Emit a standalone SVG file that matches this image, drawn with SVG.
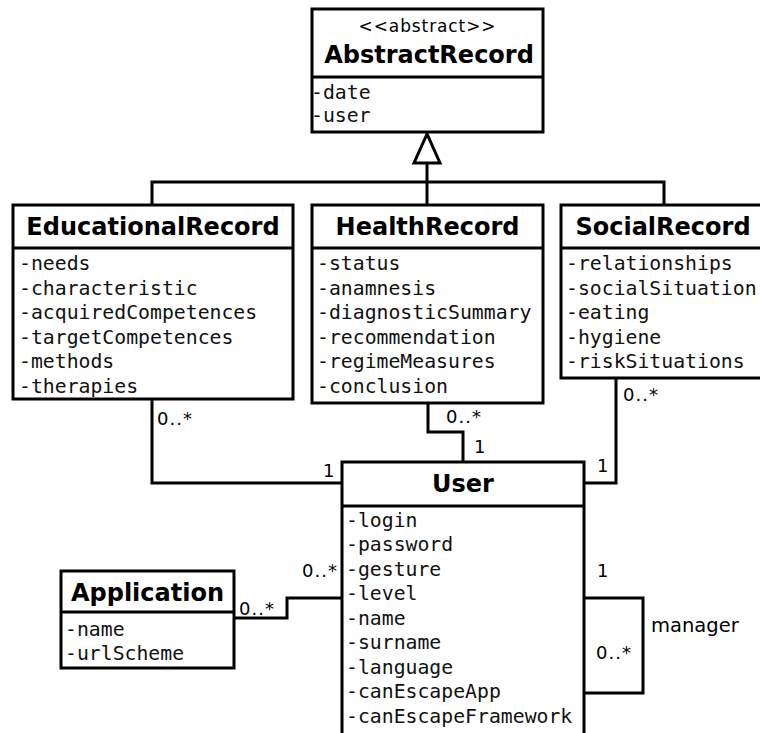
<svg xmlns="http://www.w3.org/2000/svg" width="760" height="733" viewBox="0 0 760 733">
  <style>
    .box { fill: #ffffff; stroke: #000000; stroke-width: 3; }
    .sep { stroke: #000000; stroke-width: 3; fill: none; }
    .title { font-family: "DejaVu Sans", "Liberation Sans", sans-serif; font-weight: bold; font-size: 24px; text-anchor: middle; fill: #000; }
    .stereo { font-family: "DejaVu Sans", "Liberation Sans", sans-serif; font-size: 17px; text-anchor: middle; fill: #000; letter-spacing: 0.9px; }
    .attr { font-family: "DejaVu Sans Mono", "Liberation Mono", monospace; font-size: 19.8px; fill: #111; }
    .wire { fill: none; stroke: #000000; stroke-width: 3; }
    .mult { font-family: "DejaVu Sans", "Liberation Sans", sans-serif; font-size: 18px; fill: #000; letter-spacing: 1px; }
    .role { font-family: "DejaVu Sans", "Liberation Sans", sans-serif; font-size: 19.5px; fill: #000; }
  </style>
  <rect x="0" y="0" width="760" height="733" fill="#ffffff"/>

  <!-- connectors -->
  <g id="connectors">
    <!-- generalization tree -->
    <polyline class="wire" points="152,205 152,182 664,182 664,205"/>
    <line class="wire" x1="427" y1="163" x2="427" y2="205"/>
    <polygon points="427,134 414,163 440,163" fill="#ffffff" stroke="#000000" stroke-width="3" stroke-linejoin="miter"/>
    <!-- EducationalRecord - User -->
    <polyline class="wire" points="152,399 152,483 342,483"/>
    <text class="mult" x="157" y="425">0..*</text>
    <text class="mult" x="323" y="477">1</text>
    <!-- HealthRecord - User -->
    <polyline class="wire" points="428,403 428,432 463,432 463,462"/>
    <text class="mult" x="446" y="423">0..*</text>
    <text class="mult" x="474" y="453">1</text>
    <!-- SocialRecord - User -->
    <polyline class="wire" points="616,378 616,483 584,483"/>
    <text class="mult" x="623" y="401">0..*</text>
    <text class="mult" x="597" y="472">1</text>
    <!-- Application - User -->
    <polyline class="wire" points="234,618 287,618 287,598 342,598"/>
    <text class="mult" x="239" y="615">0..*</text>
    <text class="mult" x="302" y="577">0..*</text>
    <!-- User manager self association -->
    <polyline class="wire" points="584,598 643,598 643,693 584,693"/>
    <text class="mult" x="597" y="577">1</text>
    <text class="mult" x="596" y="659">0..*</text>
    <text class="role" x="651" y="632">manager</text>
  </g>

  <g id="AbstractRecord">
    <rect class="box" x="312" y="9" width="231" height="123"/>
    <line class="sep" x1="312" y1="77" x2="543" y2="77"/>
    <text class="stereo" x="427.5" y="32">&lt;&lt;abstract&gt;&gt;</text>
    <text class="title" x="429" y="63">AbstractRecord</text>
    <text class="attr" x="311" y="99">-date</text>
    <text class="attr" x="311" y="122">-user</text>
  </g>

  <g id="EducationalRecord">
    <rect class="box" x="13" y="205" width="280" height="194"/>
    <line class="sep" x1="13" y1="248" x2="293" y2="248"/>
    <text class="title" x="153" y="235">EducationalRecord</text>
    <text class="attr" x="19" y="270">-needs</text>
    <text class="attr" x="19" y="294.6">-characteristic</text>
    <text class="attr" x="19" y="319.2">-acquiredCompetences</text>
    <text class="attr" x="19" y="343.8">-targetCompetences</text>
    <text class="attr" x="19" y="368.4">-methods</text>
    <text class="attr" x="19" y="393">-therapies</text>
  </g>

  <g id="HealthRecord">
    <rect class="box" x="312" y="205" width="231" height="198"/>
    <line class="sep" x1="312" y1="248" x2="543" y2="248"/>
    <text class="title" x="427.5" y="235">HealthRecord</text>
    <text class="attr" x="317" y="270">-status</text>
    <text class="attr" x="317" y="294.6">-anamnesis</text>
    <text class="attr" x="317" y="319.2">-diagnosticSummary</text>
    <text class="attr" x="317" y="343.8">-recommendation</text>
    <text class="attr" x="317" y="368.4">-regimeMeasures</text>
    <text class="attr" x="317" y="393">-conclusion</text>
  </g>

  <g id="SocialRecord">
    <rect class="box" x="561" y="205" width="212" height="173"/>
    <line class="sep" x1="561" y1="248" x2="773" y2="248"/>
    <text class="title" x="663" y="235">SocialRecord</text>
    <text class="attr" x="566" y="270">-relationships</text>
    <text class="attr" x="566" y="294.6">-socialSituation</text>
    <text class="attr" x="566" y="319.2">-eating</text>
    <text class="attr" x="566" y="343.8">-hygiene</text>
    <text class="attr" x="566" y="368.4">-riskSituations</text>
  </g>

  <g id="User">
    <rect class="box" x="342" y="462" width="242" height="285"/>
    <line class="sep" x1="342" y1="506" x2="584" y2="506"/>
    <text class="title" x="463" y="492">User</text>
    <text class="attr" x="346" y="526.5">-login</text>
    <text class="attr" x="346" y="551">-password</text>
    <text class="attr" x="346" y="575.5">-gesture</text>
    <text class="attr" x="346" y="600">-level</text>
    <text class="attr" x="346" y="624.5">-name</text>
    <text class="attr" x="346" y="649">-surname</text>
    <text class="attr" x="346" y="673.5">-language</text>
    <text class="attr" x="346" y="698">-canEscapeApp</text>
    <text class="attr" x="346" y="722.5">-canEscapeFramework</text>
  </g>

  <g id="Application">
    <rect class="box" x="61" y="571" width="173" height="97"/>
    <line class="sep" x1="61" y1="612" x2="234" y2="612"/>
    <text class="title" x="147.5" y="601">Application</text>
    <text class="attr" x="65" y="636">-name</text>
    <text class="attr" x="65" y="660">-urlScheme</text>
  </g>
</svg>
